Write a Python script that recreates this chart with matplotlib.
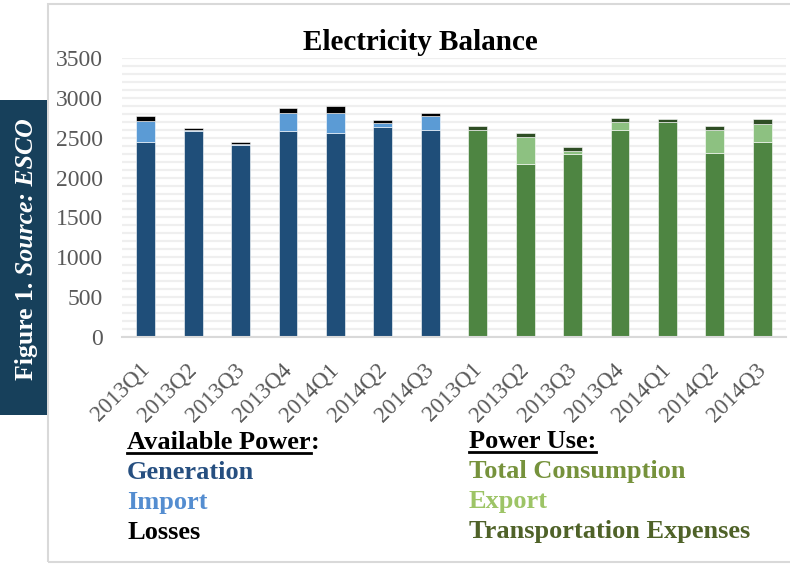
import matplotlib.pyplot as plt
import matplotlib.transforms as mtransforms
from matplotlib.patches import Rectangle
from matplotlib.lines import Line2D

# quarters, the first seven are the supply side, the last seven the use side
quarters = ["2013Q1", "2013Q2", "2013Q3", "2013Q4", "2014Q1", "2014Q2", "2014Q3"]

# available power (supply)
generation = [2445, 2590, 2415, 2590, 2565, 2640, 2600]
imports = [266, 5, 5, 218, 250, 42, 170]
losses = [67, 33, 33, 70, 85, 38, 42]

# power use
consumption = [2598, 2175, 2300, 2598, 2695, 2309, 2451]
exports = [0, 340, 30, 97, 0, 285, 219]
transport = [50, 50, 50, 50, 42, 54, 63]

W, H = 790, 564
plt.rcParams['font.family'] = ['Liberation Serif', 'DejaVu Serif']

fig = plt.figure(figsize=(W / 100, H / 100), dpi=100)

def fx(px):
    return px / W

def fy(py):
    return 1 - py / H

# light frame round the chart
fig.patches.append(Rectangle((fx(48), fy(562)), fx(745), fy(4) - fy(562), transform=fig.transFigure,
                             fill=False, edgecolor="#D9D9D9", linewidth=1.5))

ax = fig.add_axes([fx(122), fy(336.7), fx(786) - fx(122), fy(58.3) - fy(336.7)])

n = len(quarters)
xs_supply = list(range(n))
xs_use = list(range(n, 2 * n))
bw = 0.40
edge = dict(edgecolor="#FFFFFF", linewidth=0.4)

ax.bar(xs_supply, generation, bw, color="#1F4E79", **edge)
ax.bar(xs_supply, imports, bw, bottom=generation, color="#5B9BD5", **edge)
loss_bottom = [g + i for g, i in zip(generation, imports)]
ax.bar(xs_supply, losses, bw, bottom=loss_bottom, color="#000000", **edge)

ax.bar(xs_use, consumption, bw, color="#4E8542", **edge)
ax.bar(xs_use, exports, bw, bottom=consumption, color="#8DC181", **edge)
tr_bottom = [c + e for c, e in zip(consumption, exports)]
ax.bar(xs_use, transport, bw, bottom=tr_bottom, color="#2E4D24", **edge)

ax.set_xlim(-0.5, 2 * n - 0.5)
ax.set_ylim(0, 3500)
ax.set_yticks(range(0, 3501, 500))
ax.set_yticks(range(0, 3501, 100), minor=True)
ax.grid(True, axis="y", which="both", color="#EFEFEF", linewidth=1.6)
ax.set_axisbelow(True)
for s in ["top", "right", "left"]:
    ax.spines[s].set_visible(False)
ax.spines["bottom"].set_color("#D9D9D9")
ax.spines["bottom"].set_linewidth(1.5)
ax.tick_params(axis="y", which="both", length=0, pad=14, labelsize=17, labelcolor="#595959")
ax.tick_params(axis="x", length=0, pad=16)
ax.set_xticks(xs_supply + xs_use)
ax.set_xticklabels(quarters + quarters, rotation=45, ha="right", va="top",
                   rotation_mode="anchor", fontsize=16.5, color="#595959")
shift = mtransforms.ScaledTranslation(-0.07, 0, fig.dpi_scale_trans)
for lbl in ax.get_xticklabels():
    lbl.set_transform(lbl.get_transform() + shift)

fig.text(fx(420), fy(50), "Electricity Balance", ha="center", va="baseline",
         fontsize=21, fontweight="bold", color="#000000")

# side label box
fig.patches.append(Rectangle((0, fy(415)), fx(47), fy(100) - fy(415), transform=fig.transFigure,
                             facecolor="#17405B", edgecolor="none"))

fig.canvas.draw()
r = fig.canvas.get_renderer()
t1 = fig.text(fx(26.5), fy(380), "Figure 1. ", rotation=90, ha="center", va="bottom",
              fontsize=18.5, fontweight="bold", color="white")
bb = t1.get_window_extent(r)
fig.text(fx(26.5), bb.y1 / fig.dpi / fig.get_figheight(), "Source: ESCO", rotation=90,
         ha="center", va="bottom", fontsize=18.5, fontweight="bold", fontstyle="italic", color="white")

# text legend under the chart
leg_size = 19
t = fig.text(fx(127), fy(449), "Available Power", fontsize=leg_size, fontweight="bold", color="black")
b = t.get_window_extent(r)
fig.text(b.x1 / W, fy(449), ":", fontsize=leg_size, fontweight="bold", color="black")
fig.lines.append(Line2D([b.x0 / W, b.x1 / W], [fy(453), fy(453)], transform=fig.transFigure,
                        color="black", linewidth=2))
fig.text(fx(127), fy(479), "Generation", fontsize=leg_size, fontweight="bold", color="#264F80")
fig.text(fx(127), fy(509), "Import", fontsize=leg_size, fontweight="bold", color="#548DD0")
fig.text(fx(127), fy(539), "Losses", fontsize=leg_size, fontweight="bold", color="black")

t = fig.text(fx(469), fy(448), "Power Use:", fontsize=leg_size, fontweight="bold", color="black")
b = t.get_window_extent(r)
fig.lines.append(Line2D([b.x0 / W, b.x1 / W], [fy(452), fy(452)], transform=fig.transFigure,
                        color="black", linewidth=2))
fig.text(fx(469), fy(478), "Total Consumption", fontsize=leg_size, fontweight="bold", color="#76923C")
fig.text(fx(469), fy(508), "Export", fontsize=leg_size, fontweight="bold", color="#9DC466")
fig.text(fx(469), fy(538), "Transportation Expenses", fontsize=leg_size, fontweight="bold", color="#4F6228")

fig.savefig("out.png", dpi=100)
